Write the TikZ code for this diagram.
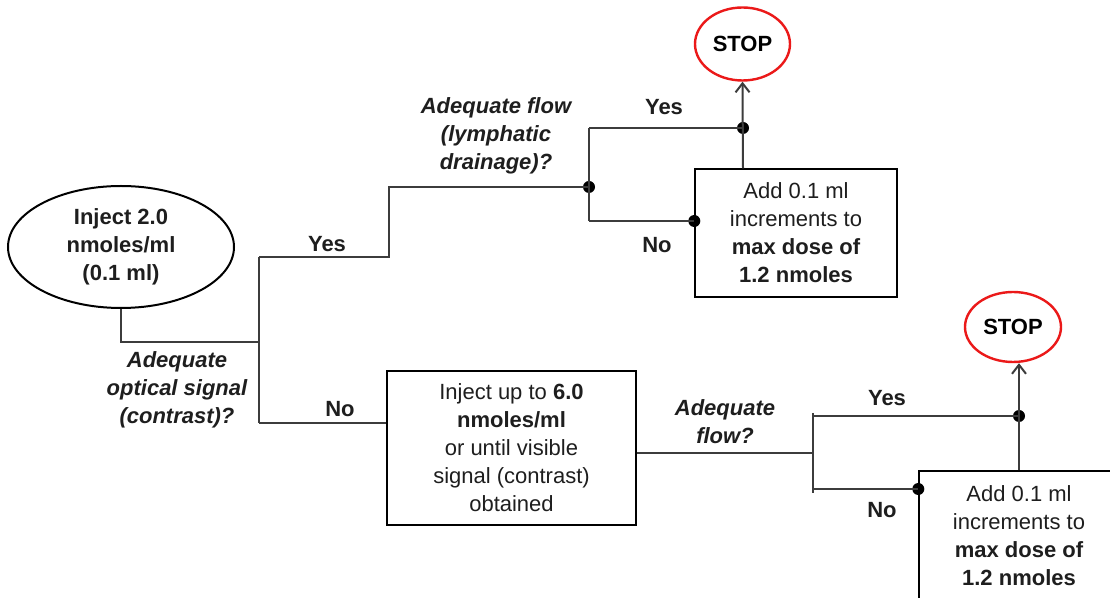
\documentclass[tikz,border=0pt]{standalone}
\usepackage{fontspec}
\setmainfont{Liberation Sans}
\usetikzlibrary{shapes.geometric,arrows.meta}
\definecolor{linegray}{RGB}{60,60,60}
\definecolor{stopred}{RGB}{235,25,25}
\definecolor{txt}{RGB}{30,30,30}
\begin{document}
\begin{tikzpicture}[x=0.5pt,y=-0.5pt,
  lbl/.style={font=\fontsize{11}{14}\selectfont\bfseries, inner sep=0, text=txt},
  q/.style={font=\fontsize{11}{14}\selectfont\bfseries\itshape, align=center, inner sep=0, text=txt},
  boxnode/.style={draw=black, line width=0.7pt, align=center, font=\fontsize{11}{14}\selectfont, inner sep=0, text=txt},
  stopnode/.style={ellipse, draw=stopred, line width=1.2pt, inner sep=0, font=\fontsize{11}{14}\selectfont\bfseries},
  conn/.style={line width=1pt, draw=linegray},
  dot/.style={circle, fill=black, inner sep=0, minimum size=6pt},
  arr/.style={conn, -{Straight Barb[length=4.5pt,width=7pt]}}
]
\clip (0,0) rectangle (1110,598);
\fill[white] (0,0) rectangle (1110,598);

% nodes
\node[ellipse, draw=black, line width=1pt, minimum width=113pt, minimum height=61pt, inner sep=0,
      align=center, font=\fontsize{11}{14}\selectfont\bfseries, text=txt] (start) at (121,247) {Inject 2.0\\nmoles/ml\\(0.1 ml)};
\node[stopnode, minimum width=47.5pt, minimum height=36.5pt] (stop1) at (742.5,44) {STOP};
\node[stopnode, minimum width=48pt, minimum height=35pt] (stop2) at (1013,327) {STOP};
\node[boxnode, minimum width=101pt, minimum height=64pt] (box1) at (796,233)
  {Add 0.1 ml\\increments to\\\textbf{max dose of}\\\textbf{1.2 nmoles}};
\node[boxnode, minimum width=124.5pt, minimum height=77pt] (box2) at (511.5,448)
  {Inject up to \textbf{6.0}\\\textbf{nmoles/ml}\\or until visible\\signal (contrast)\\obtained};
\node[boxnode, minimum width=100pt, minimum height=65pt] (box3) at (1019,536)
  {Add 0.1 ml\\increments to\\\textbf{max dose of}\\\textbf{1.2 nmoles}};

% labels
\node[q] (q1) at (177,390) {Adequate\\optical signal\\(contrast)?};
\node[q] (q2) at (496,136) {Adequate flow\\(lymphatic\\drainage)?};
\node[q] (q3) at (725,422) {Adequate\\flow?};
\node[lbl] (yes1) at (327,244) {Yes};
\node[lbl] (no1) at (340,409) {No};
\node[lbl] (yes2) at (664,107) {Yes};
\node[lbl] (no2) at (657,245) {No};
\node[lbl] (yes3) at (887,398) {Yes};
\node[lbl] (no3) at (882,510) {No};

% junction coordinates
\coordinate (j1) at (259,342);
\coordinate (a1) at (259,257);
\coordinate (b1) at (259,423);
\coordinate (t2) at (589,128);
\coordinate (b2) at (589,221);
\coordinate (j3) at (813,453);
\coordinate (t3) at (813,413);
\coordinate (b3) at (813,493);
\coordinate (y3a) at (813,416);
\coordinate (n3a) at (813,489);

% dots
\node[dot] (d1) at (589,187) {};
\node[dot] (dy1) at (743,128) {};
\node[dot] (dn1) at (box1.west |- b2) {};
\node[dot] (dy3) at (box3.north |- y3a) {};
\node[dot] (dn3) at (box3.west |- n3a) {};

% connectors
\draw[conn] (start.south) -- (start.south |- j1) -- (j1);
\draw[conn] (a1) -- (b1);
\draw[conn] (a1) -- ++(130,0) |- (d1.center);
\draw[conn] (b1) -- (b1 -| box2.west);
\draw[conn] (t2) -- (b2);
\draw[conn] (t2) -- (dy1.center);
\draw[conn] (b2) -- (dn1.center);
\draw[arr] (dy1 |- box1.north) -- (stop1.south);
\draw[conn] (box2.east |- j3) -- (j3);
\draw[conn] (t3) -- (b3);
\draw[conn] (y3a) -- (dy3.center);
\draw[conn] (n3a) -- (dn3.center);
\draw[arr] (box3.north) -- (box3.north |- stop2.south);
\end{tikzpicture}
\end{document}
